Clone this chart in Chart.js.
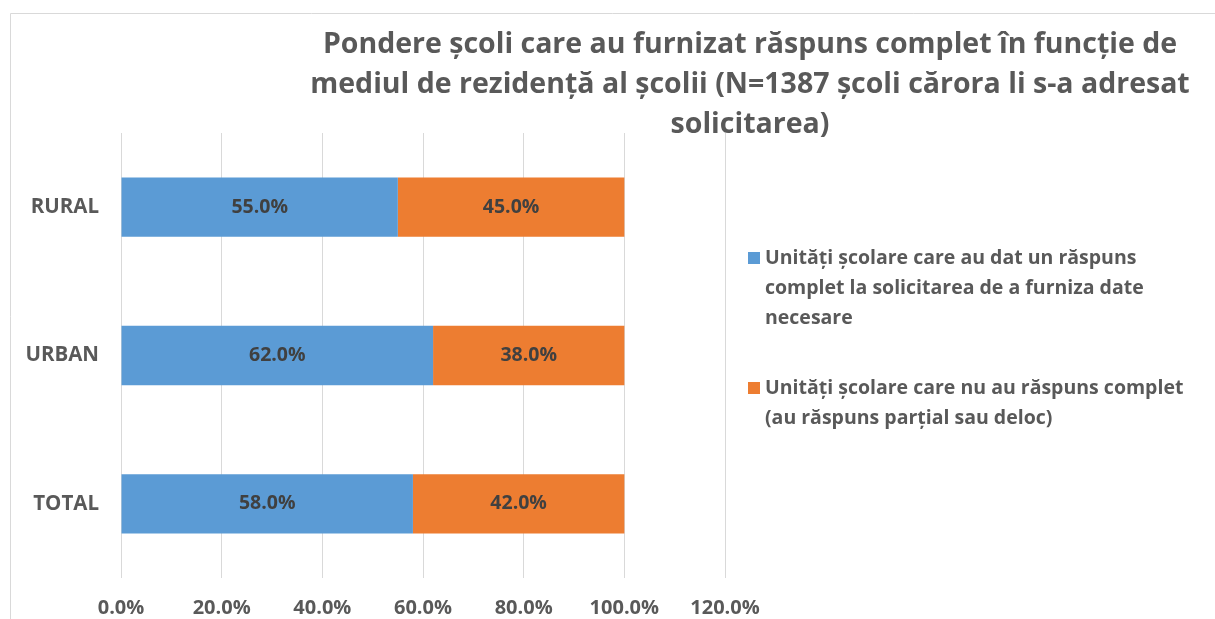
<!DOCTYPE html>
<html>
<head>
<meta charset="utf-8">
<script src="https://cdn.jsdelivr.net/npm/chart.js@4/dist/chart.umd.min.js"></script>
<style>
  html,body{margin:0;padding:0;background:#fff;}
  #wrap{position:relative;width:1215px;height:619px;}
</style>
</head>
<body>
<div id="wrap"><canvas id="c" width="1215" height="619"></canvas></div>
<script>
// date din grafic
const categorii = ['RURAL', 'URBAN', 'TOTAL'];
const raspunsComplet = [55.0, 62.0, 58.0];
const raspunsIncomplet = [45.0, 38.0, 42.0];
const etichete = [
  'Unități școlare care au dat un răspuns complet la solicitarea de a furniza date necesare',
  'Unități școlare care nu au răspuns complet (au răspuns parțial sau deloc)'
];
const titlu = [
  'Pondere școli care au furnizat răspuns complet în funcție de',
  'mediul de rezidență al școlii (N=1387 școli cărora li s-a adresat',
  'solicitarea)'
];
const legendaRanduri = [
  ['Unități școlare care au dat un răspuns', 'complet la solicitarea de a furniza date', 'necesare'],
  ['Unități școlare care nu au răspuns complet', '(au răspuns parțial sau deloc)']
];

const FONT = '"Open Sans", "Liberation Sans", sans-serif';
const GRI = '#595959';

// rama, titlu, legenda si etichetele de pe bare
const decor = {
  id: 'decor',
  beforeDraw(chart){
    const c = chart.ctx;
    c.save();
    c.strokeStyle = '#d9d9d9'; c.lineWidth = 1;
    c.beginPath();
    c.moveTo(10.5, 619); c.lineTo(10.5, 13.5); c.lineTo(1215, 13.5);
    c.stroke();
    c.restore();
  },
  afterDraw(chart){
    const c = chart.ctx;
    c.save();
    // titlu
    c.fillStyle = GRI;
    c.font = 'bold 28.5px ' + FONT;
    c.textAlign = 'center'; c.textBaseline = 'middle';
    titlu.forEach((t,i)=> c.fillText(t, 750, 45 + i*40));
    // etichete pe bare
    c.font = 'bold 19.5px ' + FONT;
    c.fillStyle = '#404040';
    chart.data.datasets.forEach((ds,di)=>{
      chart.getDatasetMeta(di).data.forEach((bar,i)=>{
        const x = (bar.x + bar.base)/2;
        c.fillText(ds.data[i].toFixed(1)+'%', x, bar.y);
      });
    });
    // legenda
    c.textAlign = 'left';
    c.font = 'bold 19.5px ' + FONT;
    const y0 = [258, 388];
    chart.data.datasets.forEach((ds,di)=>{
      c.fillStyle = ds.backgroundColor;
      c.fillRect(748, y0[di]-6, 12, 12);
      c.fillStyle = GRI;
      legendaRanduri[di].forEach((r,k)=> c.fillText(r, 765, y0[di] + k*30));
    });
    c.restore();
  }
};

new Chart(document.getElementById('c'), {
  type: 'bar',
  data: {
    labels: categorii,
    datasets: [
      {label: etichete[0], data: raspunsComplet, backgroundColor: '#5b9bd5', borderWidth: 0,
       barPercentage: 0.8, categoryPercentage: 0.5},
      {label: etichete[1], data: raspunsIncomplet, backgroundColor: '#ed7d31', borderWidth: 0,
       barPercentage: 0.8, categoryPercentage: 0.5}
    ]
  },
  options: {
    indexAxis: 'y',
    responsive: false,
    animation: false,
    layout: {padding: {top: 133, left: 10, right: 490, bottom: 0}},
    plugins: {legend: {display: false}, title: {display: false}, tooltip: {enabled: false}},
    scales: {
      x: {
        stacked: true, min: 0, max: 120,
        afterFit(s){ s.height = 41; },
        border: {display: false},
        grid: {color: '#d9d9d9', drawTicks: false},
        ticks: {stepSize: 20, padding: 18, color: GRI, font: {family: FONT, size: 20, weight: 'bold'},
                callback: v => v.toFixed(1) + '%'}
      },
      y: {
        stacked: true,
        afterFit(s){ s.width = 111; },
        border: {display: false},
        grid: {display: false, drawTicks: false},
        ticks: {padding: 22, color: GRI, font: {family: FONT, size: 20.5, weight: 'bold'}}
      }
    }
  },
  plugins: [decor]
});
</script>
</body>
</html>
